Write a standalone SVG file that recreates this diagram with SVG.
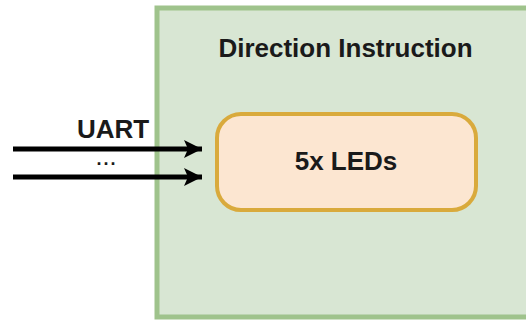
<svg xmlns="http://www.w3.org/2000/svg" width="526" height="320" viewBox="0 0 526 320">
<defs>
<style>
.lbl{font-family:"Liberation Sans",Arial,sans-serif;font-weight:bold;font-size:26px;fill:#1a1a1a;text-anchor:middle}
.conn{stroke:#000;stroke-width:5;fill:none}
</style>
<marker id="ah" markerUnits="userSpaceOnUse" markerWidth="20" markerHeight="20" refX="18" refY="9" orient="auto">
<path d="M0,0 L18,9 L0,18 L4,9 Z" fill="#000"/>
</marker>
</defs>
<rect width="526" height="320" fill="#fff"/>
<g id="direction-instruction">
<rect x="157" y="8" width="380" height="309" fill="#d8e6d3" stroke="#9fc38c" stroke-width="5"/>
<text class="lbl" x="345.5" y="57">Direction Instruction</text>
</g>
<g id="leds">
<rect x="217" y="114" width="259" height="96" rx="24" ry="24" fill="#fce6d1" stroke="#d9aa3c" stroke-width="4"/>
<text class="lbl" x="346" y="170">5x LEDs</text>
</g>
<g id="connectors">
<line class="conn" x1="13" y1="149" x2="202" y2="149" marker-end="url(#ah)"/>
<line class="conn" x1="13" y1="177" x2="202" y2="177" marker-end="url(#ah)"/>
<text class="lbl" x="113" y="138">UART</text>
<text class="lbl" x="107" y="165" style="font-size:18px;letter-spacing:2px">...</text>
</g>
</svg>
